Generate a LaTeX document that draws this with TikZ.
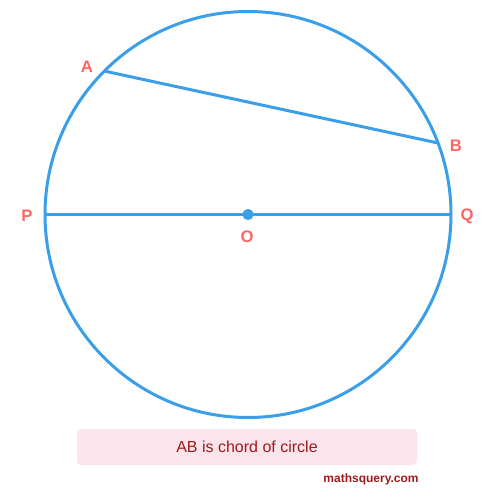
\documentclass[tikz,border=0pt]{standalone}
\usepackage{fontspec}
\setmainfont{Liberation Sans}
\definecolor{cblue}{HTML}{3A9FE8}
\definecolor{lred}{HTML}{FF6464}
\definecolor{dred}{HTML}{9B1C1C}
\definecolor{boxpink}{HTML}{FCE4EC}
\begin{document}
\begin{tikzpicture}[x=0.75pt,y=-0.75pt,
  line/.style={draw=cblue,line width=2.25pt},
  lab/.style={text=lred,font=\fontsize{12.5}{14}\selectfont\bfseries,inner sep=0pt}]
\useasboundingbox (0,0) rectangle (494,500);
\coordinate (O) at (248,214.5);
\coordinate (A) at (104,71);
\coordinate (B) at (438,143);
\coordinate (P) at (45,214.5);
\coordinate (Q) at (451,214.5);
\draw[line] (O) circle[radius=203*0.75pt];
\draw[line] (A) -- (B);
\draw[line] (P) -- (Q);
\fill[cblue] (O) circle[radius=4.2pt];
\node[lab] (la) at (87,67) {A};
\node[lab] (lb) at (456,146) {B};
\node[lab] (lp) at (27,216) {P};
\node[lab] (lq) at (467,216) {Q};
\node[lab] (lo) at (247,237) {O};
\node[fill=boxpink,rounded corners=3pt,minimum width=340*0.75pt,minimum height=36*0.75pt,inner sep=0pt,text=dred,font=\fontsize{12}{14}\selectfont] (cap) at (247,447) {AB is chord of circle};
\node[text=dred,font=\fontsize{9}{11}\selectfont\bfseries,inner sep=0pt] (web) at (371,479) {mathsquery.com};
\end{tikzpicture}
\end{document}
